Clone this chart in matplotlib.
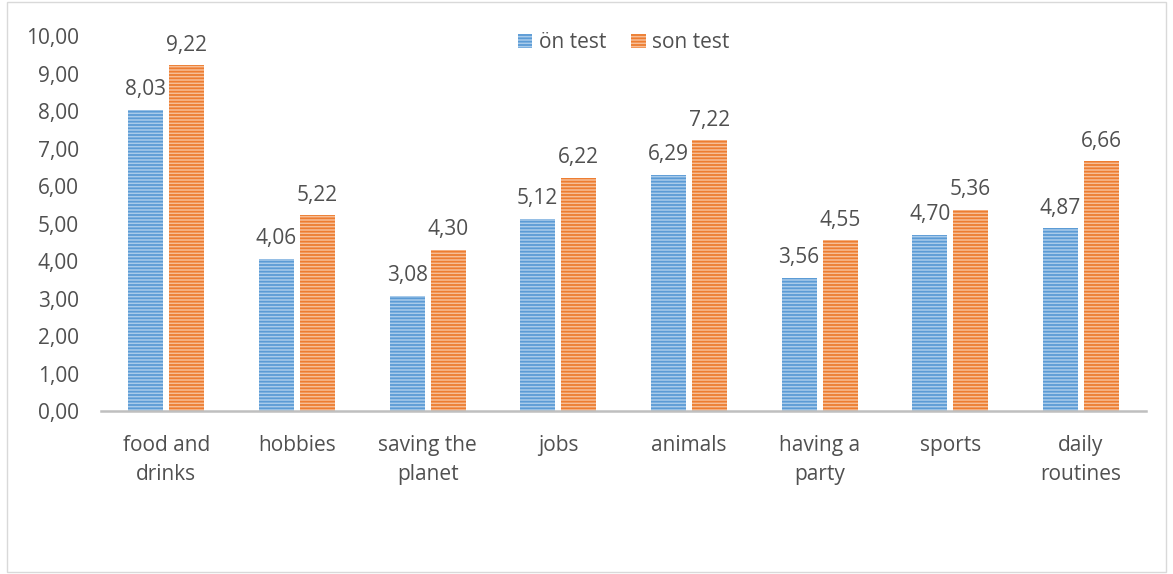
import numpy as np
import matplotlib.pyplot as plt
from matplotlib.patches import Rectangle

categories = ['food and\ndrinks', 'hobbies', 'saving the\nplanet', 'jobs', 'animals',
              'having a\nparty', 'sports', 'daily\nroutines']
on_test = [8.03, 4.06, 3.08, 5.12, 6.29, 3.56, 4.70, 4.87]
son_test = [9.22, 5.22, 4.30, 6.22, 7.22, 4.55, 5.36, 6.66]
series_names = ['ön test', 'son test']

plt.rcParams['font.family'] = ['Open Sans', 'DejaVu Sans']
plt.rcParams['hatch.linewidth'] = 1.3
text_color = '#505050'

fig = plt.figure(figsize=(11.73, 5.74), dpi=100)
ax = fig.add_axes([0.0861, 0.284, 0.891, 0.653])

# outer chart border
fig.patches.append(Rectangle((0.006, 0.004), 0.988, 0.992, transform=fig.transFigure,
                             fill=False, edgecolor='#D9D9D9', linewidth=1))

x = np.arange(len(categories))
w = 0.268
gap = 0.046
b1 = ax.bar(x - w / 2 - gap / 2, on_test, w, color='#A9CBEA', edgecolor='#5B9BD5',
            linewidth=0, hatch='-----', label=series_names[0])
b2 = ax.bar(x + w / 2 + gap / 2, son_test, w, color='#F7BE96', edgecolor='#ED7D31',
            linewidth=0, hatch='-----', label=series_names[1])

for bars in (b1, b2):
    ax.bar_label(bars, labels=[f'{v:.2f}'.replace('.', ',') for v in bars.datavalues],
                 padding=7, fontsize=15, color=text_color)

ax.set_xlim(-0.5, len(categories) - 0.5)
ax.set_ylim(0, 10)
ax.set_yticks(np.arange(0, 11, 1))
ax.set_yticklabels([f'{v:.2f}'.replace('.', ',') for v in np.arange(0, 11, 1)])
ax.set_xticks(x)
ax.set_xticklabels(categories, linespacing=1.5)
ax.tick_params(axis='both', length=0, labelsize=15, colors=text_color)
ax.tick_params(axis='x', pad=17)
ax.tick_params(axis='y', pad=16)
for s in ['top', 'right', 'left']:
    ax.spines[s].set_visible(False)
ax.spines['bottom'].set_color('#BFBFBF')
ax.spines['bottom'].set_linewidth(1.8)

leg = ax.legend(loc='upper center', bbox_to_anchor=(0.5, 1.06), ncol=2, frameon=False,
                fontsize=15, handlelength=0.7, handleheight=0.7, handletextpad=0.3,
                columnspacing=1.2)
for t in leg.get_texts():
    t.set_color(text_color)

fig.savefig('out.png', dpi=100)
